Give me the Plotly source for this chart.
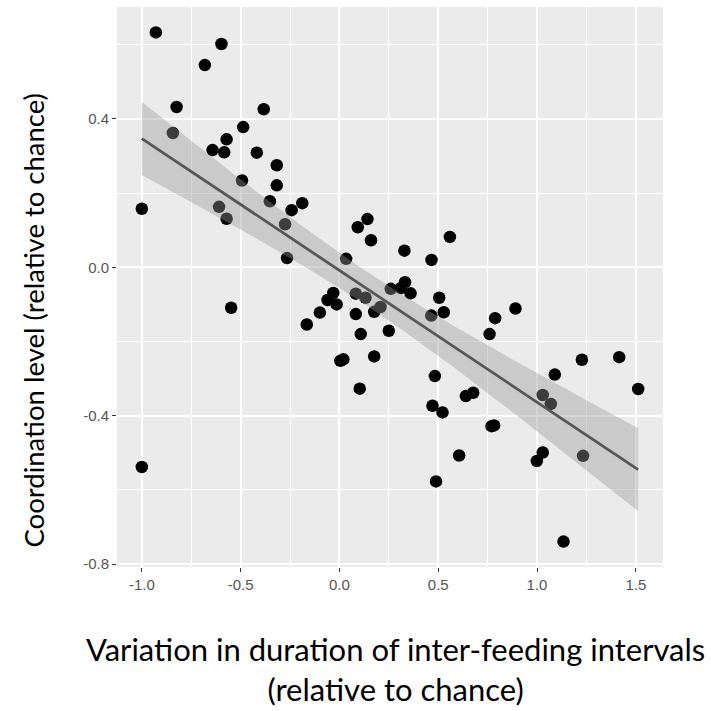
import numpy as np
import plotly.graph_objects as go

# variation in inter-feeding interval duration (x) vs coordination level (y)
x_vals = [
    -0.929, -0.597, -0.681, -0.824, -0.383, -0.843, -0.487, -0.571, -0.642, -0.583,
    -0.418, -0.317, -0.493, -0.317, -0.352, -0.188, -0.242, -1.000, -0.609, -0.571,
    -0.275, -0.265, 0.034, 0.142, 0.093, 0.160, 0.329, 0.466, 0.559, -0.031,
    -0.014, 0.083, 0.132, 0.083, 0.176, 0.208, 0.108, 0.250, 0.005, 0.020,
    0.176, 0.103, 0.260, 0.332, 0.311, 0.360, 0.505, 0.465, 0.528, 0.891,
    0.788, 0.760, 0.483, 0.471, 0.522, 0.640, 0.677, 0.770, 0.783, 0.606,
    0.489, 1.090, 1.227, 1.416, 1.512, 1.029, 1.070, 1.029, 0.999, 1.233,
    1.134, -0.548, -0.060, -0.099, -0.165, -1.000,
]
y_vals = [
    0.633, 0.602, 0.545, 0.432, 0.426, 0.362, 0.378, 0.345, 0.316, 0.310,
    0.309, 0.275, 0.234, 0.221, 0.178, 0.173, 0.154, 0.158, 0.163, 0.131,
    0.116, 0.025, 0.023, 0.130, 0.108, 0.073, 0.045, 0.020, 0.082, -0.069,
    -0.100, -0.071, -0.082, -0.126, -0.120, -0.107, -0.180, -0.171, -0.252, -0.248,
    -0.240, -0.327, -0.058, -0.040, -0.056, -0.070, -0.082, -0.130, -0.121, -0.111,
    -0.137, -0.180, -0.293, -0.373, -0.391, -0.347, -0.338, -0.428, -0.426, -0.507,
    -0.577, -0.289, -0.249, -0.242, -0.328, -0.344, -0.368, -0.499, -0.522, -0.508,
    -0.739, -0.109, -0.088, -0.122, -0.154, -0.538,
]
x_ticks = [-1.0, -0.5, 0.0, 0.5, 1.0, 1.5]
y_ticks = [-0.8, -0.4, 0.0, 0.4]

X_TITLE = "Variation in duration of inter-feeding intervals<br>(relative to chance)"
Y_TITLE = "Coordination level (relative to chance)"
T_975 = 1.9925  # t quantile, df = n - 2

x = np.array(x_vals)
y = np.array(y_vals)
n = len(x)

# linear fit with 95% confidence band (as geom_smooth(method="lm"))
slope, intercept = np.polyfit(x, y, 1)
resid = y - (slope * x + intercept)
s = np.sqrt((resid ** 2).sum() / (n - 2))
sxx = ((x - x.mean()) ** 2).sum()
xs = np.linspace(x.min(), x.max(), 80)
fit = slope * xs + intercept
se = s * np.sqrt(1 / n + (xs - x.mean()) ** 2 / sxx)
upper = fit + T_975 * se
lower = fit - T_975 * se

# ggplot default 5% expansion
xr = x.max() - x.min()
yr = y.max() - y.min()
x_range = [x.min() - 0.05 * xr, x.max() + 0.05 * xr]
y_range = [y.min() - 0.05 * yr, y.max() + 0.05 * yr]

fig = go.Figure()
fig.add_scatter(
    x=x, y=y, mode="markers",
    marker={"color": "black", "size": 12.5, "line": {"width": 0}},
    showlegend=False,
)
fig.add_scatter(
    x=np.concatenate([xs, xs[::-1]]), y=np.concatenate([upper, lower[::-1]]),
    fill="toself", fillcolor="rgba(153,153,153,0.4)", line={"width": 0},
    mode="lines", showlegend=False, hoverinfo="skip",
)
fig.add_scatter(
    x=xs, y=fit, mode="lines", line={"color": "#575757", "width": 2.8},
    showlegend=False,
)

axis_common = {
    "showgrid": True, "gridcolor": "white", "gridwidth": 1.6,
    "zeroline": False, "showline": False,
    "ticks": "outside", "ticklen": 4, "tickwidth": 1.2, "tickcolor": "#333333",
    "tickfont": {"family": "Liberation Sans, Arial", "size": 15, "color": "#555555"},
}

fig.update_layout(
    width=711, height=711,
    margin={"l": 116.5, "r": 48, "t": 6.5, "b": 144},
    paper_bgcolor="white", plot_bgcolor="#EBEBEB",
    xaxis={
        **axis_common, "range": x_range, "tickvals": x_ticks,
        "ticktext": [f"{v:.1f}" for v in x_ticks],
        "minor": {"tickvals": [-0.75, -0.25, 0.25, 0.75, 1.25], "showgrid": True,
                  "gridcolor": "white", "gridwidth": 0.8, "ticks": ""},
    },
    yaxis={
        **axis_common, "range": y_range, "tickvals": y_ticks,
        "ticktext": [f"{v:.1f}" for v in y_ticks],
        "minor": {"tickvals": [-0.6, -0.2, 0.2, 0.6], "showgrid": True,
                  "gridcolor": "white", "gridwidth": 0.8, "ticks": ""},
    },
    annotations=[
        {"text": X_TITLE, "xref": "paper", "yref": "paper", "x": 0.51, "y": -0.183,
         "xanchor": "center", "yanchor": "middle", "showarrow": False,
         "font": {"family": "Lato", "size": 31, "color": "black"}},
        {"text": Y_TITLE, "xref": "paper", "yref": "paper", "x": -0.153, "y": 0.441,
         "xanchor": "center", "yanchor": "middle", "showarrow": False, "textangle": -90,
         "font": {"family": "Lato", "size": 27.5, "color": "black"}},
    ],
)

fig.write_html(
    "out.html",
    config={"displayModeBar": False},
    post_script="document.body.style.margin = '0';",
)
